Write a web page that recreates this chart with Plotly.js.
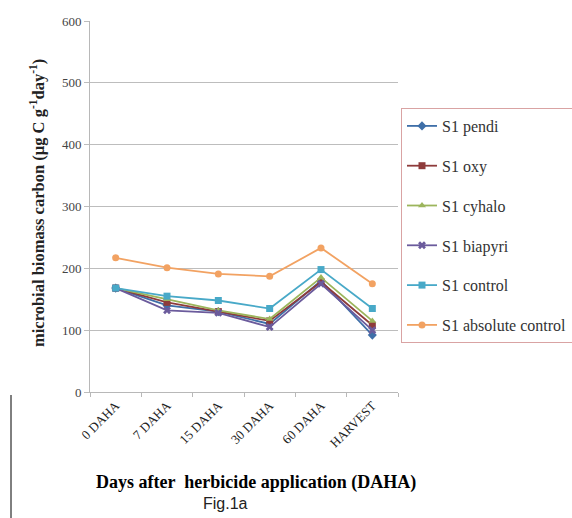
<!DOCTYPE html>
<html><head><meta charset="utf-8">
<script src="https://cdn.plot.ly/plotly-3.0.1.min.js"></script>
<style>body{margin:0;background:#fff}#c{width:572px;height:518px}</style>
</head><body><div id="c"></div>
<script>
const categories = ["0 DAHA","7 DAHA","15 DAHA","30 DAHA","60 DAHA","HARVEST"];
const seriesNames = ["S1 pendi","S1 oxy","S1 cyhalo","S1 biapyri","S1 control","S1 absolute control"];
const pendi    = [168, 140, 130, 110, 180, 92];
const oxy      = [168, 145, 130, 115, 178, 108];
const cyhalo   = [168, 150, 132, 118, 185, 115];
const biapyri  = [168, 132, 128, 105, 175, 100];
const control  = [168, 155, 148, 135, 198, 135];
const absolute = [217, 201, 191, 187, 233, 175];
const yTicks = [0,100,200,300,400,500,600];

const seriesValues = [pendi, oxy, cyhalo, biapyri, control, absolute];
const colors = ["#3f6fa8","#8e3b3b","#9cb55c","#6b5b9c","#48a9c8","#f2a262"];
const symbols = ["diamond","square","triangle-up","x","square","circle"];

const traces = seriesValues.map((v,i)=>({
  type:"scatter", mode:"lines+markers", x:categories, y:v, name:seriesNames[i],
  legendgroup:"g"+i,
  line:{color:colors[i], width:1.8},
  marker:{symbol:symbols[i], size:7, color:colors[i]}
}));

const serif = "Liberation Serif, Times New Roman, serif";
const P = (px)=>(px-90)/308, Q = (py)=>(392-py)/371;
const layout = {
  width:572, height:518,
  margin:{l:90, r:174, t:21, b:126, autoexpand:false},
  paper_bgcolor:"#fff", plot_bgcolor:"#fff",
  showlegend:true,
  legend:{x:P(401), xanchor:"left", y:Q(108), yanchor:"top",
    bgcolor:"#fff", bordercolor:"#d9a3a3", borderwidth:1,
    font:{family:serif, size:16, color:"#333"},
    traceorder:"grouped", tracegroupgap:16, itemwidth:30},
  xaxis:{type:"category", range:[-0.5,5.5], showgrid:false, zeroline:false,
    showline:true, linecolor:"#b8b8b8", linewidth:1,
    ticks:"outside", tickson:"boundaries", ticklen:4, tickcolor:"#b8b8b8",
    tickangle:-45, tickfont:{family:serif, size:13, color:"#222"}},
  yaxis:{range:[0,600], tickvals:yTicks, showgrid:true, gridcolor:"#bdbdbd", gridwidth:1,
    zeroline:false, showline:true, linecolor:"#b8b8b8", linewidth:1,
    ticks:"outside", ticklen:5, tickcolor:"#bdbdbd",
    tickfont:{family:serif, size:13, color:"#444"}},
  annotations:[
    {text:"<b>microbial biomass carbon (µg C g<sup>-1</sup>day<sup>-1</sup>)</b>", textangle:-90,
     xref:"paper", yref:"paper", x:P(37), y:Q(203), xanchor:"center", yanchor:"middle",
     showarrow:false, font:{family:serif, size:16.5, color:"#222"}},
    {text:"<b>Days after  herbicide application (DAHA)</b>", xref:"paper", yref:"paper",
     x:P(256), y:Q(482), xanchor:"center", yanchor:"middle", showarrow:false,
     font:{family:serif, size:18, color:"#000"}},
    {text:"Fig.1a", xref:"paper", yref:"paper", x:P(225), y:Q(503),
     xanchor:"center", yanchor:"middle", showarrow:false,
     font:{family:"Liberation Sans, Arial, sans-serif", size:16, color:"#222"}}
  ],
  shapes:[
    {type:"line", layer:"above", xref:"paper", yref:"paper", x0:P(11), x1:P(11), y0:Q(395), y1:Q(518), line:{color:"#000", width:1}}
  ]
};
Plotly.newPlot("c", traces, layout, {displayModeBar:false, staticPlot:true});
</script></body></html>
